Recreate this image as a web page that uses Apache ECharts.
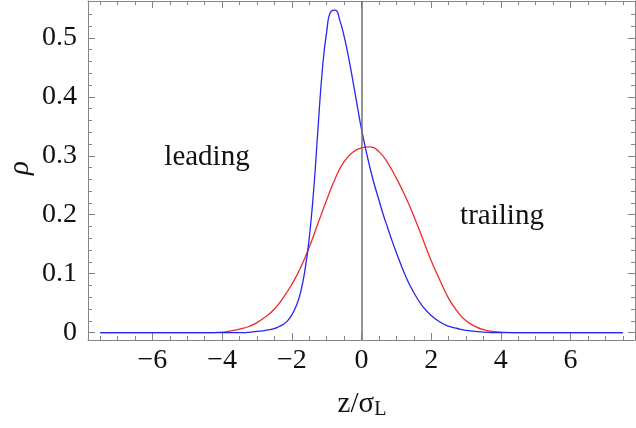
<!DOCTYPE html>
<html><head><meta charset="utf-8">
<script src="https://cdn.jsdelivr.net/npm/echarts@6/dist/echarts.min.js"></script>
<style>html,body{margin:0;padding:0;background:#fff}#c{width:636px;height:428px}</style>
</head><body><div id="c"></div>
<script>
// Red curve samples (z/σL, ρ)
var redX = [-7.5,-7,-6.5,-6,-5.5,-5,-4.5,-4,-3.75,-3.5,-3.25,-3,-2.75,-2.5,-2.25,-2,-1.75,-1.5,-1.25,-1,-0.75,-0.5,-0.25,0,0.25,0.5,0.75,1,1.25,1.5,1.75,2,2.25,2.5,2.75,3,3.25,3.5,3.75,4,4.5,5,5.5,6,6.5,7,7.5];
var redY = [0,0,0,0,0,0,0,0.001,0.003,0.006,0.010,0.017,0.027,0.040,0.059,0.082,0.110,0.145,0.185,0.225,0.262,0.290,0.306,0.3135,0.315,0.307,0.288,0.262,0.232,0.198,0.160,0.122,0.089,0.058,0.036,0.020,0.011,0.005,0.002,0.001,0,0,0,0,0,0,0];
// Blue curve samples
var blueX = [-7.5,-7,-6.5,-6,-5.5,-5,-4.5,-4,-3.5,-3,-2.75,-2.5,-2.375,-2.25,-2.125,-2,-1.875,-1.75,-1.625,-1.5,-1.375,-1.25,-1.125,-1,-0.875,-0.75,-0.625,-0.5,-0.375,-0.25,-0.125,0,0.125,0.25,0.375,0.5,0.625,0.75,0.875,1,1.25,1.5,1.75,2,2.25,2.5,2.75,3,3.5,4,4.5,5,5.5,6,6.5,7,7.5];
var blueY = [0,0,0,0,0,0,0,0,0,0.002,0.004,0.007,0.010,0.014,0.020,0.030,0.045,0.068,0.105,0.160,0.240,0.345,0.445,0.510,0.545,0.547,0.530,0.503,0.468,0.428,0.386,0.345,0.310,0.278,0.250,0.225,0.200,0.178,0.156,0.136,0.098,0.068,0.045,0.029,0.018,0.011,0.007,0.004,0.001,0,0,0,0,0,0,0,0];
var xMajor = [-6,-4,-2,0,2,4,6];
var xMinor = [-7.5,-7,-6.5,-5.5,-5,-4.5,-3.5,-3,-2.5,-1.5,-1,-0.5,0.5,1,1.5,2.5,3,3.5,4.5,5,5.5,6.5,7,7.5];
var yMajor = [0,0.1,0.2,0.3,0.4,0.5];
var yMinor = [0.02,0.04,0.06,0.08,0.12,0.14,0.16,0.18,0.22,0.24,0.26,0.28,0.32,0.34,0.36,0.38,0.42,0.44,0.46,0.48,0.52,0.54];

function zip(a,b){return a.map(function(v,i){return [v,b[i]];});}
var XMIN=-7.85, XMAX=7.85, YMIN=-0.0125, YMAX=0.5625;
var frameColor='#858585', font='"Liberation Serif","DejaVu Serif",serif';

function xAx(pos, vals, len, showLabel, showLine){
  return {type:'value', position:pos, min:XMIN, max:XMAX, splitLine:{show:false},
    axisLine:{show:showLine, onZero:false, lineStyle:{color:frameColor,width:1}},
    axisTick:{show:true, inside:true, length:len, customValues:vals, lineStyle:{color:frameColor,width:1}},
    axisLabel:{show:showLabel, customValues:vals, margin:7, color:'#111', fontFamily:font, fontSize:28,
      formatter:function(v){return v<0?'\u2212'+(-v):String(v);}}};
}
function yAx(pos, vals, len, showLabel, showLine){
  return {type:'value', position:pos, min:YMIN, max:YMAX, splitLine:{show:false},
    axisLine:{show:showLine, onZero:false, lineStyle:{color:frameColor,width:1}},
    axisTick:{show:true, inside:true, length:len, customValues:vals, lineStyle:{color:frameColor,width:1}},
    axisLabel:{show:showLabel, customValues:vals, margin:11, color:'#111', fontFamily:font, fontSize:28,
      formatter:function(v){return String(Math.round(v*10)/10);}}};
}

var chart = echarts.init(document.getElementById('c'), null, {renderer:'canvas'});
chart.setOption({
  animation:false,
  grid:{left:88, right:1, top:1, bottom:88, containLabel:false},
  xAxis:[xAx('bottom',xMajor,7,true,true), xAx('bottom',xMinor,4,false,false),
         xAx('top',xMajor,7,false,true), xAx('top',xMinor,4,false,false)],
  yAxis:[yAx('left',yMajor,7,true,true), yAx('left',yMinor,4,false,false),
         yAx('right',yMajor,7,false,true), yAx('right',yMinor,4,false,false)],
  series:[
    {type:'line', data:zip(redX,redY), smooth:0.5, showSymbol:false, xAxisIndex:0, yAxisIndex:0,
     lineStyle:{color:'#ee2a2a', width:1.3},
     markLine:{silent:true, symbol:'none', label:{show:false}, lineStyle:{color:'#707070', width:1.5, type:'solid'},
       data:[[{coord:[0,YMIN]},{coord:[0,YMAX]}]]}},
    {type:'line', data:zip(blueX,blueY), smooth:0.5, showSymbol:false, xAxisIndex:0, yAxisIndex:0,
     lineStyle:{color:'#2626ee', width:1.3}}
  ],
  graphic:[
    {type:'text', x:207, y:157, style:{text:'leading', font:'29px '+font, fill:'#111', textAlign:'center', textVerticalAlign:'middle'}},
    {type:'text', x:502, y:216, style:{text:'trailing', font:'29px '+font, fill:'#111', textAlign:'center', textVerticalAlign:'middle'}},
    {type:'text', x:20, y:168, rotation:Math.PI/2, style:{text:'\u03C1', font:'italic 29px '+font, fill:'#111', textAlign:'center', textVerticalAlign:'middle'}},
    {type:'text', x:362, y:404, style:{text:'{a|z/\u03C3}{b|L}', textAlign:'center', textVerticalAlign:'middle',
      rich:{a:{font:'29px '+font, fill:'#111', color:'#111'}, b:{font:'20px '+font, fill:'#111', color:'#111', padding:[12,0,0,0]}}}}
  ]
});
</script></body></html>
